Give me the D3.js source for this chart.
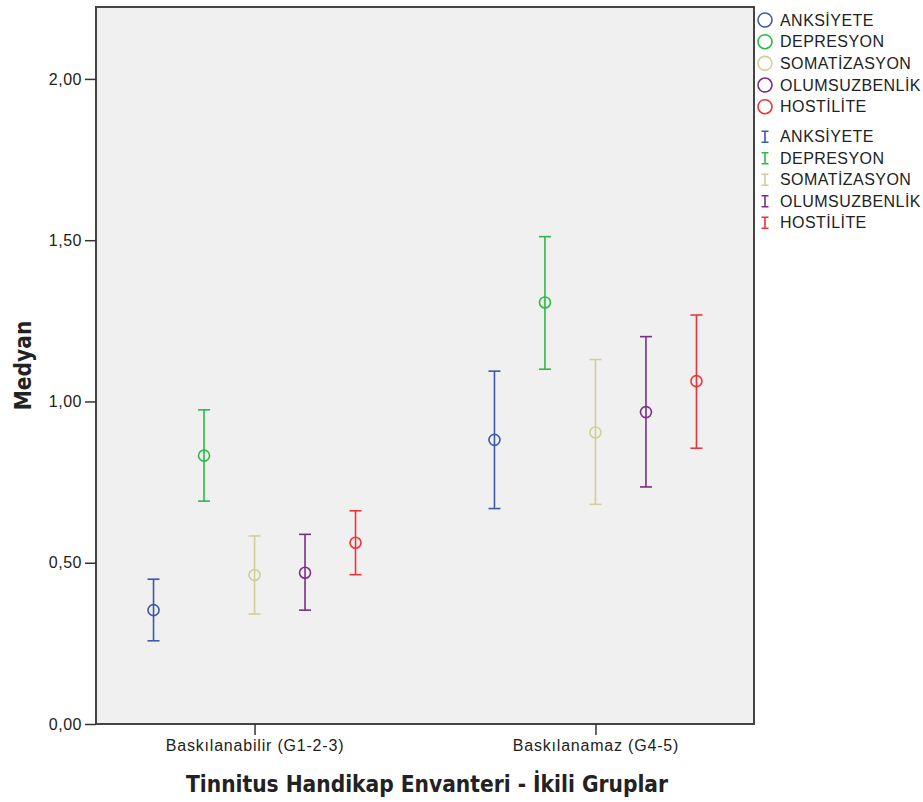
<!DOCTYPE html>
<html>
<head>
<meta charset="utf-8">
<script src="https://cdn.jsdelivr.net/npm/d3@7"></script>
<style>
  body { margin: 0; background: #fff; }
  svg text { fill: #222; }
</style>
</head>
<body>
<svg id="chart" width="923" height="802"></svg>
<script>
const groups = ['Baskılanabilir (G1-2-3)', 'Baskılanamaz (G4-5)'];
const series = ['ANKSİYETE', 'DEPRESYON', 'SOMATİZASYON', 'OLUMSUZBENLİK', 'HOSTİLİTE'];
const colors = ['#3E58AC', '#2EB848', '#D3CE97', '#7B2E85', '#EF3338'];

// median, lower and upper end of error bar; one row per group
const medians = [
  [0.353, 0.832, 0.462, 0.469, 0.562],
  [0.881, 1.307, 0.904, 0.967, 1.063]
];
const lowers = [
  [0.258, 0.691, 0.341, 0.353, 0.463],
  [0.668, 1.100, 0.681, 0.735, 0.855]
];
const uppers = [
  [0.449, 0.974, 0.583, 0.588, 0.661],
  [1.094, 1.511, 1.130, 1.201, 1.268]
];
const yTicks = [0, 0.5, 1, 1.5, 2];

const svg = d3.select('#chart');
const plot = {left: 96, right: 754, top: 7, bottom: 724};

const x = d3.scalePoint().domain(groups).range([plot.left, plot.right]).padding(0.465);
const xs = d3.scalePoint().domain(series).range([-101, 101]);
const y = d3.scaleLinear().domain([0, 2.223]).range([plot.bottom, plot.top]);

const fmt = d => d3.format('.2f')(d).replace('.', ',');

svg.append('rect')
  .attr('x', plot.left).attr('y', plot.top)
  .attr('width', plot.right - plot.left).attr('height', plot.bottom - plot.top)
  .attr('fill', '#F0F0F0')
  .attr('stroke', '#444').attr('stroke-width', 2);

const yAxis = svg.append('g')
  .attr('transform', `translate(${plot.left},0)`)
  .call(d3.axisLeft(y).tickValues(yTicks).tickFormat(fmt).tickSize(11).tickPadding(3));
yAxis.select('.domain').remove();
yAxis.selectAll('line').attr('stroke', '#333').attr('stroke-width', 1.5);
yAxis.selectAll('text')
  .attr('font-family', 'Liberation Sans, Arial, sans-serif').attr('font-size', 16)
  .attr('letter-spacing', 0.5).attr('fill', '#222');

const xAxis = svg.append('g')
  .attr('transform', `translate(0,${plot.bottom})`)
  .call(d3.axisBottom(x).tickSize(11).tickPadding(5));
xAxis.select('.domain').remove();
xAxis.selectAll('line').attr('stroke', '#333').attr('stroke-width', 1.5);
xAxis.selectAll('text')
  .attr('font-family', 'Liberation Sans, Arial, sans-serif').attr('font-size', 16)
  .attr('letter-spacing', 0.8).attr('fill', '#222');

// build one record per mark
const points = [];
groups.forEach((g, gi) => {
  series.forEach((s, si) => {
    points.push({g, s, color: colors[si], m: medians[gi][si], lo: lowers[gi][si], hi: uppers[gi][si]});
  });
});

const marks = svg.append('g').selectAll('g')
  .data(points)
  .join('g')
  .attr('transform', d => `translate(${x(d.g) + xs(d.s)},0)`)
  .attr('stroke', d => d.color)
  .attr('stroke-width', 1.6)
  .attr('fill', 'none');

marks.append('line')
  .attr('y1', d => y(d.lo)).attr('y2', d => y(d.hi));
marks.append('line')
  .attr('x1', -6).attr('x2', 6)
  .attr('y1', d => y(d.hi)).attr('y2', d => y(d.hi));
marks.append('line')
  .attr('x1', -6).attr('x2', 6)
  .attr('y1', d => y(d.lo)).attr('y2', d => y(d.lo));
marks.append('circle')
  .attr('cy', d => y(d.m))
  .attr('r', 5.5);

// axis titles
svg.append('text')
  .attr('x', (plot.left + plot.right) / 2 + 2).attr('y', 792)
  .attr('text-anchor', 'middle')
  .attr('font-family', 'DejaVu Sans Condensed, DejaVu Sans, sans-serif')
  .attr('font-stretch', 'condensed')
  .attr('font-weight', 'bold').attr('font-size', 22.5)
  .text('Tinnitus Handikap Envanteri - İkili Gruplar');

svg.append('text')
  .attr('transform', `translate(31,${(plot.top + plot.bottom) / 2}) rotate(-90)`)
  .attr('text-anchor', 'middle')
  .attr('font-family', 'DejaVu Sans Condensed, DejaVu Sans, sans-serif')
  .attr('font-stretch', 'condensed')
  .attr('font-weight', 'bold').attr('font-size', 22.5)
  .text('Medyan');

// legend: markers then error bars
const legend = svg.append('g').attr('transform', 'translate(765,0)');
const rowCircle = d3.scalePoint().domain(series).range([20, 106.7]);
const rowBar = d3.scalePoint().domain(series).range([136.7, 222.7]);

const lc = legend.selectAll('.lc').data(series).join('g')
  .attr('class', 'lc')
  .attr('transform', d => `translate(0,${rowCircle(d)})`);
lc.append('circle')
  .attr('r', 7).attr('fill', 'none').attr('stroke-width', 1.6)
  .attr('stroke', (d, i) => colors[i]);
lc.append('text')
  .attr('x', 15).attr('dy', '0.36em')
  .attr('font-family', 'Liberation Sans, Arial, sans-serif').attr('font-size', 16)
  .attr('letter-spacing', 0.45)
  .text(d => d);

const lb = legend.selectAll('.lb').data(series).join('g')
  .attr('class', 'lb')
  .attr('transform', d => `translate(0,${rowBar(d)})`);
lb.append('path')
  .attr('d', 'M-3.5,-5.5H3.5M0,-5.5V5.5M-3.5,5.5H3.5')
  .attr('fill', 'none').attr('stroke-width', 1.6)
  .attr('stroke', (d, i) => colors[i]);
lb.append('text')
  .attr('x', 15).attr('dy', '0.36em')
  .attr('font-family', 'Liberation Sans, Arial, sans-serif').attr('font-size', 16)
  .attr('letter-spacing', 0.45)
  .text(d => d);
</script>
</body>
</html>
